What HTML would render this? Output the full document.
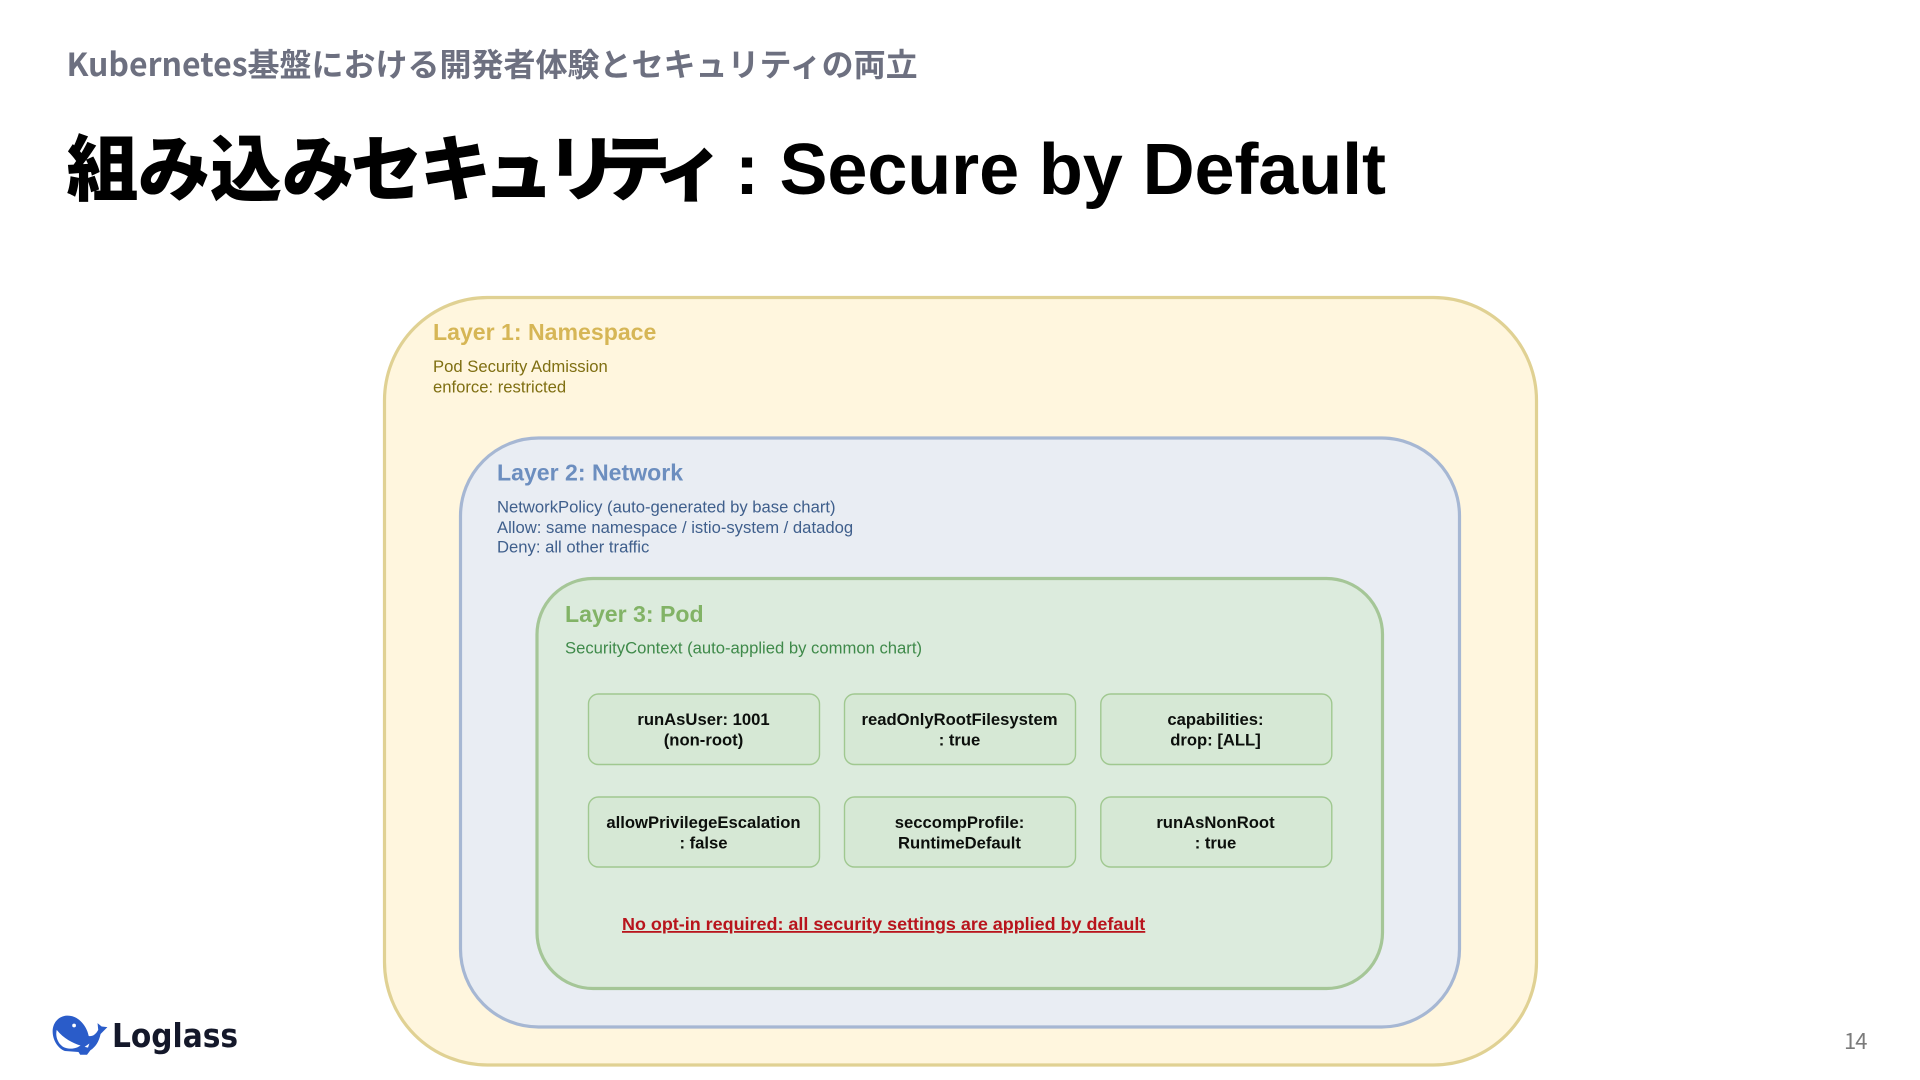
<!DOCTYPE html>
<html lang="ja">
<head>
<meta charset="utf-8">
<title>組み込みセキュリティ : Secure by Default</title>
<style>
html,body{margin:0;padding:0;background:#fff;width:1920px;height:1080px;overflow:hidden}
svg{display:block}
text{font-family:"Liberation Sans","Noto Sans CJK JP",sans-serif}
.h{font-size:23.1px;font-weight:700}
.t{font-size:16.65px}
.b{font-size:16.65px;font-weight:700;fill:#0c0f0c;text-anchor:middle}
</style>
</head>
<body>
<svg width="1920" height="1080" viewBox="0 0 1920 1080" xmlns="http://www.w3.org/2000/svg">
<rect width="1920" height="1080" fill="#fff"/>
<text x="66.5" y="76" font-size="32" font-weight="700" fill="#6d7080" style='font-family:"Noto Sans CJK JP","Liberation Sans",sans-serif'>Kubernetes基盤における開発者体験とセキュリティの両立</text>
<text y="195" x="66.5 138 210 282 350.5 419.5 482.5 546 598.5 653" font-size="72" font-weight="900" fill="#000" style='font-family:"Noto Sans CJK JP",sans-serif'>組み込みセキュリティ</text>
<text x="735" y="194" font-size="72" font-weight="700" fill="#000">:</text>
<text x="779.5" y="194" font-size="72" font-weight="700" fill="#000" textLength="606.5">Secure by Default</text>

<rect x="384.5" y="297.5" width="1152" height="767.5" rx="103" ry="103" fill="#fff6de" stroke="#e0d193" stroke-width="3.2"/>
<rect x="460.5" y="438" width="999" height="589" rx="78" ry="78" fill="#e9edf3" stroke="#a6b7d3" stroke-width="3.2"/>
<rect x="537" y="578.5" width="845.5" height="410" rx="56" ry="56" fill="#dcebdd" stroke="#a5c697" stroke-width="3.2"/>

<g fill="#d6e8d5" stroke="#a0c890" stroke-width="1.4">
<rect x="588.5" y="694" width="231" height="70.5" rx="10"/>
<rect x="844.5" y="694" width="231" height="70.5" rx="10"/>
<rect x="1100.8" y="694" width="231" height="70.5" rx="10"/>
<rect x="588.5" y="797" width="231" height="70" rx="10"/>
<rect x="844.5" y="797" width="231" height="70" rx="10"/>
<rect x="1100.8" y="797" width="231" height="70" rx="10"/>
</g>

<text class="h" x="433" y="340" fill="#d6b656">Layer 1: Namespace</text>
<text class="t" x="433" y="372" fill="#7f6f12">Pod Security Admission</text>
<text class="t" x="433" y="392.5" fill="#7f6f12">enforce: restricted</text>

<text class="h" x="497" y="480.5" fill="#6c8ebf">Layer 2: Network</text>
<text class="t" x="497" y="512.5" fill="#3f5f8c">NetworkPolicy (auto-generated by base chart)</text>
<text class="t" x="497" y="533" fill="#3f5f8c">Allow: same namespace / istio-system / datadog</text>
<text class="t" x="497" y="552.5" fill="#3f5f8c">Deny: all other traffic</text>

<text class="h" x="565" y="622" fill="#82b366">Layer 3: Pod</text>
<text class="t" x="565" y="653.5" fill="#3f8a4a">SecurityContext (auto-applied by common chart)</text>

<text class="b" x="703.5" y="725">runAsUser: 1001</text>
<text class="b" x="703.5" y="745.5">(non-root)</text>
<text class="b" x="959.5" y="725">readOnlyRootFilesystem</text>
<text class="b" x="959.5" y="745.5">: true</text>
<text class="b" x="1215.5" y="725">capabilities:</text>
<text class="b" x="1215.5" y="745.5">drop: [ALL]</text>
<text class="b" x="703.5" y="828">allowPrivilegeEscalation</text>
<text class="b" x="703.5" y="848.5">: false</text>
<text class="b" x="959.5" y="828">seccompProfile:</text>
<text class="b" x="959.5" y="848.5">RuntimeDefault</text>
<text class="b" x="1215.5" y="828">runAsNonRoot</text>
<text class="b" x="1215.5" y="848.5">: true</text>

<text x="622" y="930" font-size="17.95" font-weight="700" fill="#b8141c" text-decoration="underline">No opt-in required: all security settings are applied by default</text>

<g transform="translate(44.5,1009.5) scale(0.34)">
<path d="M65 18 C40 20 25 40 24 62 C23 90 40 115 60 122 L100 125 L105 133 L125 133 L135 120 C150 110 160 95 165 72 L185 52 L168 50 L156 40 L158 60 C150 75 140 80 130 78 C125 50 100 16 65 18 Z" fill="#2a5cc9"/>
<path d="M36 60 C30 85 45 108 62 113 C80 118 95 114 106 106 C85 100 55 85 36 60 Z" fill="#fff"/>
<circle cx="87" cy="47" r="5.5" fill="#fff"/>
<path d="M118 110 L132 100 L128 112 Z" fill="#fff"/>
</g>
<text transform="translate(112,1047) scale(0.9,1)" x="0" y="0" font-size="33" font-weight="700" fill="#14182a" style='font-family:"DejaVu Sans",sans-serif'>Loglass</text>
<text x="1844" y="1049" font-size="22" fill="#7b7b7b" style='font-family:"Noto Sans CJK JP","Liberation Sans",sans-serif' letter-spacing="-1">14</text>
</svg>
</body>
</html>
